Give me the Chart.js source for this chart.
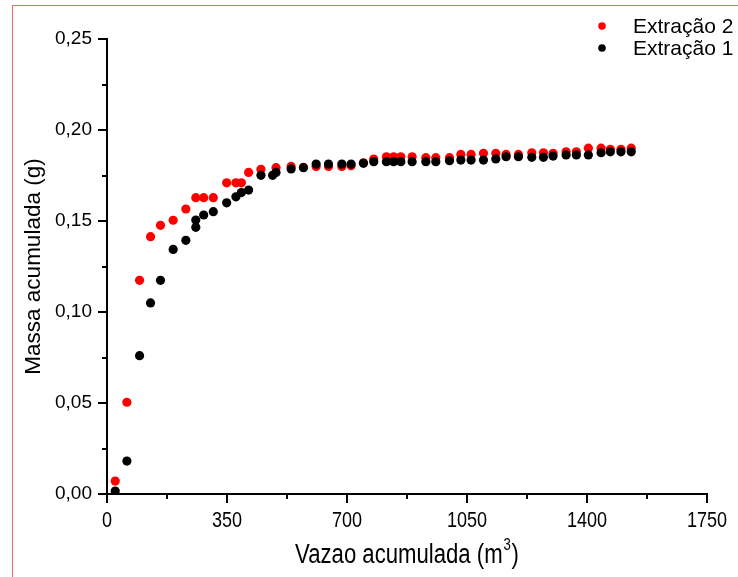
<!DOCTYPE html>
<html>
<head>
<meta charset="utf-8">
<script src="https://cdn.jsdelivr.net/npm/chart.js@4.4.1/dist/chart.umd.min.js"></script>
<style>
  html, body { margin: 0; padding: 0; background: #fff; }
  #wrap { position: relative; width: 738px; height: 577px; }
  #frame { position: absolute; left: 12px; top: 5px; right: 0; bottom: 0; border-left: 1px solid #e46a6a; border-top: 1px solid #e46a6a; }
  canvas { position: absolute; left: 0; top: 0; }
</style>
</head>
<body>
<div id="wrap">
  <div id="frame"></div>
  <canvas id="myChart" width="738" height="577"></canvas>
</div>
<script>
// Extração 2 (vermelho)
const vazao2 = [24, 58, 95, 127, 156, 193, 230, 259, 282, 310, 349, 376, 392, 413, 449, 493, 537, 573, 610, 646,
  685, 712, 748, 778, 815, 836, 857, 890, 930, 959, 999, 1032, 1062, 1098, 1134, 1164, 1200, 1239, 1273, 1301,
  1339, 1369, 1404, 1441, 1468, 1499, 1529];
const massa2 = [0.0071, 0.0504, 0.1174, 0.1414, 0.1476, 0.1504, 0.1566, 0.1628, 0.1628, 0.1628, 0.171, 0.171, 0.171, 0.1767, 0.1784, 0.1793, 0.180, 0.1795, 0.180, 0.180,
  0.180, 0.1804, 0.182, 0.184, 0.1853, 0.1853, 0.1853, 0.1853, 0.1848, 0.1848, 0.1848, 0.1866, 0.1866, 0.1872, 0.1872, 0.1866, 0.1866, 0.1875, 0.1875, 0.1872,
  0.188, 0.188, 0.19, 0.19, 0.1894, 0.1894, 0.19];

// Extração 1 (preto)
const vazao1 = [24, 58, 95, 127, 156, 193, 230, 259, 259, 282, 310, 349, 376, 392, 413, 449, 483, 493, 537, 573,
  610, 646, 685, 712, 748, 778, 815, 836, 857, 890, 930, 959, 999, 1032, 1062, 1098, 1134, 1164, 1200, 1239,
  1273, 1301, 1339, 1369, 1404, 1441, 1468, 1499, 1529];
const massa1 = [0.0016, 0.0181, 0.076, 0.105, 0.1174, 0.1344, 0.1394, 0.1465, 0.1505, 0.1533, 0.1551, 0.160, 0.1633, 0.1656, 0.167, 0.1751, 0.1751, 0.1767, 0.1786, 0.1793,
  0.1813, 0.1813, 0.1813, 0.1813, 0.1817, 0.1826, 0.1826, 0.1826, 0.1826, 0.1826, 0.1826, 0.1826, 0.1831, 0.1835, 0.1835, 0.1835, 0.1841, 0.1853, 0.1853, 0.185,
  0.185, 0.1857, 0.1863, 0.1863, 0.1863, 0.1875, 0.188, 0.188, 0.188];

const xTicks = [0, 350, 700, 1050, 1400, 1750];
const yTicks = [0, 0.05, 0.10, 0.15, 0.20, 0.25];

const toPoints = (xs, ys) => xs.map((x, i) => ({ x: x, y: ys[i] }));

// tracinhos dos eixos (maiores e menores)
const tickMarks = {
  id: 'tickMarks',
  afterDraw(chart) {
    const ctx = chart.ctx;
    const xs = chart.scales.x, ys = chart.scales.y;
    ctx.save();
    ctx.strokeStyle = '#000';
    ctx.lineWidth = 2;
    ctx.beginPath();
    for (let i = 0; i < xTicks.length; i++) {
      const px = Math.round(xs.getPixelForValue(xTicks[i]));
      ctx.moveTo(px, xs.top); ctx.lineTo(px, xs.top + 9);
      if (i < xTicks.length - 1) {
        const pm = Math.round(xs.getPixelForValue((xTicks[i] + xTicks[i + 1]) / 2));
        ctx.moveTo(pm, xs.top); ctx.lineTo(pm, xs.top + 5);
      }
    }
    for (let i = 0; i < yTicks.length; i++) {
      const py = Math.round(ys.getPixelForValue(yTicks[i]));
      ctx.moveTo(ys.right, py); ctx.lineTo(ys.right - 9, py);
      if (i < yTicks.length - 1) {
        const pm = Math.round(ys.getPixelForValue((yTicks[i] + yTicks[i + 1]) / 2));
        ctx.moveTo(ys.right, pm); ctx.lineTo(ys.right - 5, pm);
      }
    }
    ctx.stroke();
    ctx.restore();
  }
};

// rótulos do eixo x em fonte estreita (tipo Arial Narrow)
const narrowX = {
  id: 'narrowX',
  afterDraw(chart) {
    const ctx = chart.ctx, xs = chart.scales.x;
    const sx = 0.82;
    ctx.save();
    ctx.fillStyle = '#000';
    ctx.textBaseline = 'alphabetic';
    ctx.textAlign = 'center';
    ctx.font = '22px "Liberation Sans", Arial, sans-serif';
    xTicks.forEach(v => {
      ctx.save();
      ctx.translate(xs.getPixelForValue(v), 527);
      ctx.scale(sx, 1);
      ctx.fillText(String(v), 0, 0);
      ctx.restore();
    });

    // título: Vazao acumulada (m³)
    const big = '27px "Liberation Sans", Arial, sans-serif';
    const small = '16px "Liberation Sans", Arial, sans-serif';
    const t1 = 'Vazao acumulada (m', t2 = '3', t3 = ')';
    ctx.textAlign = 'left';
    ctx.font = big;
    const w1 = ctx.measureText(t1).width, w3 = ctx.measureText(t3).width;
    ctx.font = small;
    const w2 = ctx.measureText(t2).width;
    const total = w1 + w2 + w3 + 2;
    const cx = (xs.left + xs.right) / 2;
    ctx.translate(cx, 0);
    ctx.scale(sx, 1);
    let x0 = -total / 2;
    ctx.font = big;
    ctx.fillText(t1, x0, 563);
    ctx.font = small;
    ctx.fillText(t2, x0 + w1 + 1, 550);
    ctx.font = big;
    ctx.fillText(t3, x0 + w1 + w2 + 2, 563);
    ctx.restore();
  }
};

// legenda no canto superior direito
const cornerLegend = {
  id: 'cornerLegend',
  afterDraw(chart) {
    const ctx = chart.ctx;
    ctx.save();
    ctx.font = '21px "Liberation Sans", Arial, sans-serif';
    ctx.textBaseline = 'middle';
    chart.data.datasets.forEach((ds, i) => {
      const y = 26 + i * 22;
      ctx.fillStyle = ds.backgroundColor;
      ctx.beginPath();
      ctx.arc(602, y, 3.8, 0, Math.PI * 2);
      ctx.fill();
      ctx.fillStyle = '#000';
      ctx.fillText(ds.label, 633, y + 1);
    });
    ctx.restore();
  }
};

const ctx = document.getElementById('myChart').getContext('2d');
const myChart = new Chart(ctx, {
  type: 'scatter',
  data: {
    datasets: [{
      label: 'Extração 2',
      data: toPoints(vazao2, massa2),
      backgroundColor: '#ff0000',
      borderWidth: 0,
      pointRadius: 4.6,
      order: 1
    }, {
      label: 'Extração 1',
      data: toPoints(vazao1, massa1),
      backgroundColor: '#000000',
      borderWidth: 0,
      pointRadius: 4.6,
      order: 0
    }]
  },
  options: {
    responsive: false,
    animation: false,
    layout: { padding: { top: 39, right: 31, left: 0, bottom: 0 } },
    plugins: {
      legend: { display: false },
      tooltip: { enabled: false }
    },
    scales: {
      x: {
        type: 'linear',
        min: 0,
        max: 1750,
        afterFit: s => { s.height = 83; },
        afterBuildTicks: s => { s.ticks = xTicks.map(v => ({ value: v })); },
        grid: { display: false, drawTicks: false },
        border: { display: true, color: '#000', width: 2 },
        ticks: { display: false }
      },
      y: {
        min: 0,
        max: 0.25,
        afterFit: s => { s.width = 107; },
        afterBuildTicks: s => { s.ticks = yTicks.map(v => ({ value: v })); },
        grid: { display: false, drawTicks: false },
        border: { display: true, color: '#000', width: 2 },
        ticks: {
          padding: 15,
          color: '#000',
          font: { family: '"Liberation Sans", Arial, sans-serif', size: 19 },
          callback: v => v.toFixed(2).replace('.', ',')
        },
        title: {
          display: true,
          text: 'Massa acumulada (g)',
          color: '#000',
          padding: { top: 20, bottom: 0 },
          font: { family: '"Liberation Sans", Arial, sans-serif', size: 22.5 }
        }
      }
    }
  },
  plugins: [tickMarks, narrowX, cornerLegend]
});
</script>
</body>
</html>
